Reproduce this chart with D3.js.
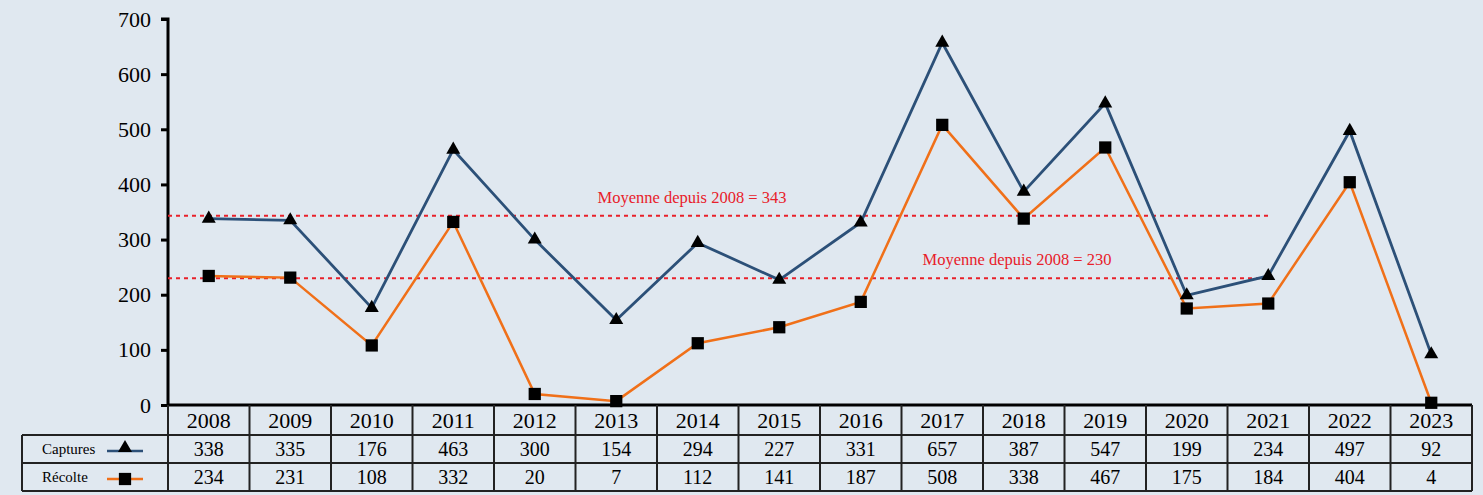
<!DOCTYPE html>
<html>
<head>
<meta charset="utf-8">
<script src="https://cdn.jsdelivr.net/npm/d3@7"></script>
<style>
  body { margin: 0; background: #e0e8f0; }
  svg { display: block; }
  svg text { font-family: "Liberation Serif", "Times New Roman", Tinos, "DejaVu Serif", serif; }
</style>
</head>
<body>
<script>
// data
const years = ['2008', '2009', '2010', '2011', '2012', '2013', '2014', '2015', '2016', '2017', '2018', '2019', '2020', '2021', '2022', '2023'];
const captures = [338, 335, 176, 463, 300, 154, 294, 227, 331, 657, 387, 547, 199, 234, 497, 92];
const recolte = [234, 231, 108, 332, 20, 7, 112, 141, 187, 508, 338, 467, 175, 184, 404, 4];
const yTicks = [0, 100, 200, 300, 400, 500, 600, 700];
const seriesNames = ['Captures', 'Récolte'];
const meanValues = [343, 230];
const meanLabels = ['Moyenne depuis 2008 = 343', 'Moyenne depuis 2008 = 230'];

const width = 1483, height = 495;
const plotLeft = 168, plotRight = 1472, plotTop = 19, plotBottom = 405;
const tableLeft = 22;
const rowY = [405, 435, 463, 491]; // year row, captures row, récolte row

const svg = d3.select('body').append('svg')
  .attr('width', width)
  .attr('height', height);

svg.append('rect')
  .attr('width', width)
  .attr('height', height)
  .attr('fill', '#e0e8f0');

let x = d3.scaleBand()
  .domain(years)
  .range([plotLeft, plotRight]);

let y = d3.scaleLinear()
  .domain([0, 700])
  .range([plotBottom, plotTop]);

// y axis
let yAxis = d3.axisLeft(y)
  .tickValues(yTicks)
  .tickSize(7)
  .tickPadding(10);

let gy = svg.append('g')
  .attr('transform', `translate(${plotLeft},0)`)
  .call(yAxis)
  .attr('font-family', null)
  .attr('font-size', null);
gy.select('.domain').attr('stroke', '#000').attr('stroke-width', 3).attr('d', `M-7,${plotTop}H0V${plotBottom}`);
gy.selectAll('.tick line').attr('stroke', '#000').attr('stroke-width', 3);
gy.selectAll('.tick text')
  .attr('fill', '#000')
  .style('font-size', '22px');

// mean lines
const meanColor = '#e8202a';
const meanEnd = 1268;
const meanLabelX = [692, 1017];
meanValues.forEach(function(v, i) {
  svg.append('line')
    .attr('x1', plotLeft)
    .attr('x2', meanEnd)
    .attr('y1', y(v))
    .attr('y2', y(v))
    .attr('stroke', meanColor)
    .attr('stroke-width', 2)
    .attr('stroke-dasharray', '4,4');
  svg.append('text')
    .attr('x', meanLabelX[i])
    .attr('y', y(v) - 13)
    .attr('text-anchor', 'middle')
    .attr('fill', meanColor)
    .style('font-size', '16.5px')
    .text(meanLabels[i]);
});

// lines
const cx = d => x(d) + x.bandwidth() / 2;
const blue = '#2c5078', orange = '#f07019';

let line = d3.line()
  .x((d, i) => cx(years[i]))
  .y(d => y(d));

svg.append('path')
  .datum(recolte)
  .attr('d', line)
  .attr('fill', 'none')
  .attr('stroke', orange)
  .attr('stroke-width', 2.5);

svg.append('path')
  .datum(captures)
  .attr('d', line)
  .attr('fill', 'none')
  .attr('stroke', blue)
  .attr('stroke-width', 2.8);

let tri = d3.symbol().type(d3.symbolTriangle).size(85);
let sq = d3.symbol().type(d3.symbolSquare).size(150);

svg.selectAll('.tri')
  .data(captures)
  .enter()
  .append('path')
  .attr('class', 'tri')
  .attr('d', tri)
  .attr('transform', (d, i) => `translate(${cx(years[i])},${y(d)})`)
  .attr('fill', '#000');

svg.selectAll('.sq')
  .data(recolte)
  .enter()
  .append('path')
  .attr('class', 'sq')
  .attr('d', sq)
  .attr('transform', (d, i) => `translate(${cx(years[i])},${y(d)})`)
  .attr('fill', '#000');

// data table
let table = svg.append('g').attr('class', 'table');
const gridStroke = '#222';

// horizontal lines
table.append('line').attr('x1', plotLeft).attr('x2', plotRight).attr('y1', rowY[0]).attr('y2', rowY[0])
  .attr('stroke', '#000').attr('stroke-width', 3);
rowY.slice(1).forEach(function(ry) {
  table.append('line').attr('x1', tableLeft).attr('x2', plotRight).attr('y1', ry).attr('y2', ry)
    .attr('stroke', gridStroke).attr('stroke-width', 2);
});

// vertical lines
x.domain().forEach(function(yr) {
  table.append('line')
    .attr('x1', x(yr)).attr('x2', x(yr))
    .attr('y1', rowY[0]).attr('y2', rowY[3])
    .attr('stroke', gridStroke).attr('stroke-width', 2);
});
table.append('line').attr('x1', plotRight).attr('x2', plotRight).attr('y1', rowY[0]).attr('y2', rowY[3])
  .attr('stroke', gridStroke).attr('stroke-width', 2);
table.append('line').attr('x1', tableLeft).attr('x2', tableLeft).attr('y1', rowY[1]).attr('y2', rowY[3])
  .attr('stroke', gridStroke).attr('stroke-width', 2);

// year labels
table.selectAll('.yr')
  .data(years)
  .enter()
  .append('text')
  .attr('x', d => cx(d))
  .attr('y', (rowY[0] + rowY[1]) / 2 + 8)
  .attr('text-anchor', 'middle')
  .style('font-size', '22px')
  .text(d => d);

[captures, recolte].forEach(function(vals, r) {
  table.selectAll('.v' + r)
    .data(vals)
    .enter()
    .append('text')
    .attr('x', (d, i) => cx(years[i]))
    .attr('y', (rowY[r + 1] + rowY[r + 2]) / 2 + 7)
    .attr('text-anchor', 'middle')
    .style('font-size', '20px')
    .text(d => d);
});

// legend keys
seriesNames.forEach(function(name, r) {
  let my = (rowY[r + 1] + rowY[r + 2]) / 2;
  table.append('text')
    .attr('x', 42)
    .attr('y', my + 5)
    .style('font-size', '15px')
    .text(name);
  table.append('line')
    .attr('x1', 107).attr('x2', 143)
    .attr('y1', my + 2).attr('y2', my + 2)
    .attr('stroke', r === 0 ? blue : orange)
    .attr('stroke-width', 2.5);
  table.append('path')
    .attr('d', r === 0 ? tri : sq)
    .attr('transform', `translate(125,${my + (r === 0 ? -1 : 2)})`)
    .attr('fill', '#000');
});
</script>
</body>
</html>
